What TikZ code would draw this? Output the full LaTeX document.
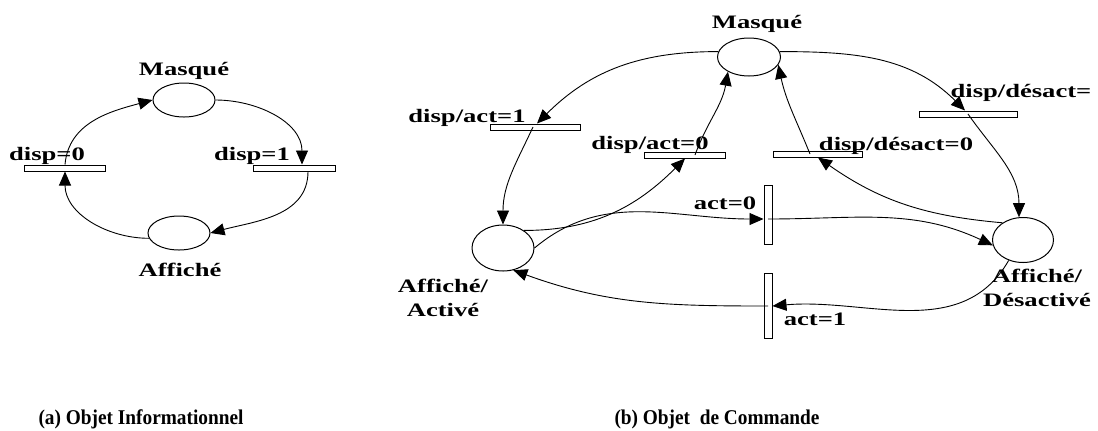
\documentclass[tikz,border=0pt]{standalone}
\usepackage{fontspec}
\setmainfont{Liberation Serif}
\usetikzlibrary{arrows.meta,positioning,shapes.geometric}
\tikzset{
  place/.style={draw,ellipse,line width=.5pt,inner sep=0pt},
  hbar/.style={draw,rectangle,inner sep=0pt,line width=.5pt,minimum height=3pt},
  vbar/.style={draw,rectangle,inner sep=0pt,line width=.5pt,minimum width=4pt},
  arc/.style={line width=.45pt,-{Triangle[length=7pt,width=6pt]}},
  lbl/.style={font=\bfseries\fontsize{9.5}{12}\selectfont,inner sep=0pt,xscale=1.4},
  captxt/.style={font=\bfseries\fontsize{10.5}{12}\selectfont,inner sep=0pt,xscale=.92}
}
\begin{document}
\begin{tikzpicture}[x=.5pt,y=-.5pt]
\useasboundingbox (0,0) rectangle (1098,430);
\node[place,minimum width=31pt,minimum height=17pt] (m1) at (184,100) {};
\node[place,minimum width=31pt,minimum height=17pt] (a1) at (179,233) {};
\foreach \n/\x/\y/\w in {t0/65/168/40.5,t1/294/168/41,ta1/535/127/45,ta0/685/155/40.5,td0/818/154/44.5,td1/968/114/49}{\node[hbar,minimum width=\w pt] (\n) at (\x,\y) {};}
\node[vbar,minimum height=29.5pt] (tv0) at (768,215) {};
\node[vbar,minimum height=32.5pt] (tv1) at (768,306) {};
\node[place,minimum width=31.5pt,minimum height=19pt] (m2) at (749,57) {};
\node[place,minimum width=31pt,minimum height=23pt] (pa) at (503,248) {};
\node[place,minimum width=30.5pt,minimum height=22.5pt] (pd) at (1023,240) {};

\node[lbl,anchor=base] at (184,75) {Masqué};
\node[lbl,anchor=base] at (180,276) {Affiché};
\node[lbl,anchor=base] at (47,160) {disp=0};
\node[lbl,anchor=base] at (252,160) {disp=1};
\node[lbl,anchor=base] at (757,28) {Masqué};
\node[lbl,align=center] at (443,298) {Affiché/\\Activé};
\node[lbl,align=center] at (1037,288) {Affiché/\\Désactivé};
\node[lbl,anchor=base] at (467,122) {disp/act=1};
\node[lbl,anchor=base] at (650,149) {disp/act=0};
\node[lbl,anchor=base] at (896,150) {disp/désact=0};
\node[lbl,anchor=base west] at (950,97) {disp/désact=};
\node[lbl,anchor=base] at (725,209) {act=0};
\node[lbl,anchor=base] at (815,325) {act=1};
\node[captxt,anchor=base] at (141,424) {(a) Objet Informationnel};
\node[captxt,anchor=base] at (717,424) {(b) Objet\ \ de Commande};

\draw[arc] (t0.north) to[out=85,in=195] (m1.west);
\draw[arc] (m1.east) to[out=0,in=90] ([xshift=4pt]t1.north);
\draw[arc] ([xshift=7pt]t1.south) to[out=-90,in=15] (a1.east);
\draw[arc] (a1.190) to[out=180,in=-90] (t0.south);

\draw[arc] (m2.170) to[out=180,in=45] ([xshift=1pt]ta1.north);
\draw[arc] ([xshift=-1pt]ta1.center) to[out=-115,in=90] (pa.north);
\draw[arc] (pa.40) to[out=0,in=225] (ta0.south);
\draw[arc] ([xshift=5pt]ta0.center) to[out=70,in=-100] (m2.215);
\draw[arc] (pa.east) to[out=40,in=180] ([yshift=-2pt]tv0.west);
\draw[arc] ([yshift=-2pt]tv0.center) to[out=0,in=155] (pd.190);
\draw[arc] (pd.235) to[out=240,in=5] (tv1.east);
\draw[arc] (tv1.center) to[out=180,in=-20] (pa.295);
\draw[arc] (m2.10) to[out=0,in=135] ([xshift=-1.5pt]td1.north);
\draw[arc] (td1.center) to[out=-55,in=90] (pd.100);
\draw[arc] (pd.140) to[out=175,in=-35] (td0.south);
\draw[arc] ([xshift=-4pt]td0.center) to[out=112,in=-78] (m2.-15);
\end{tikzpicture}
\end{document}
